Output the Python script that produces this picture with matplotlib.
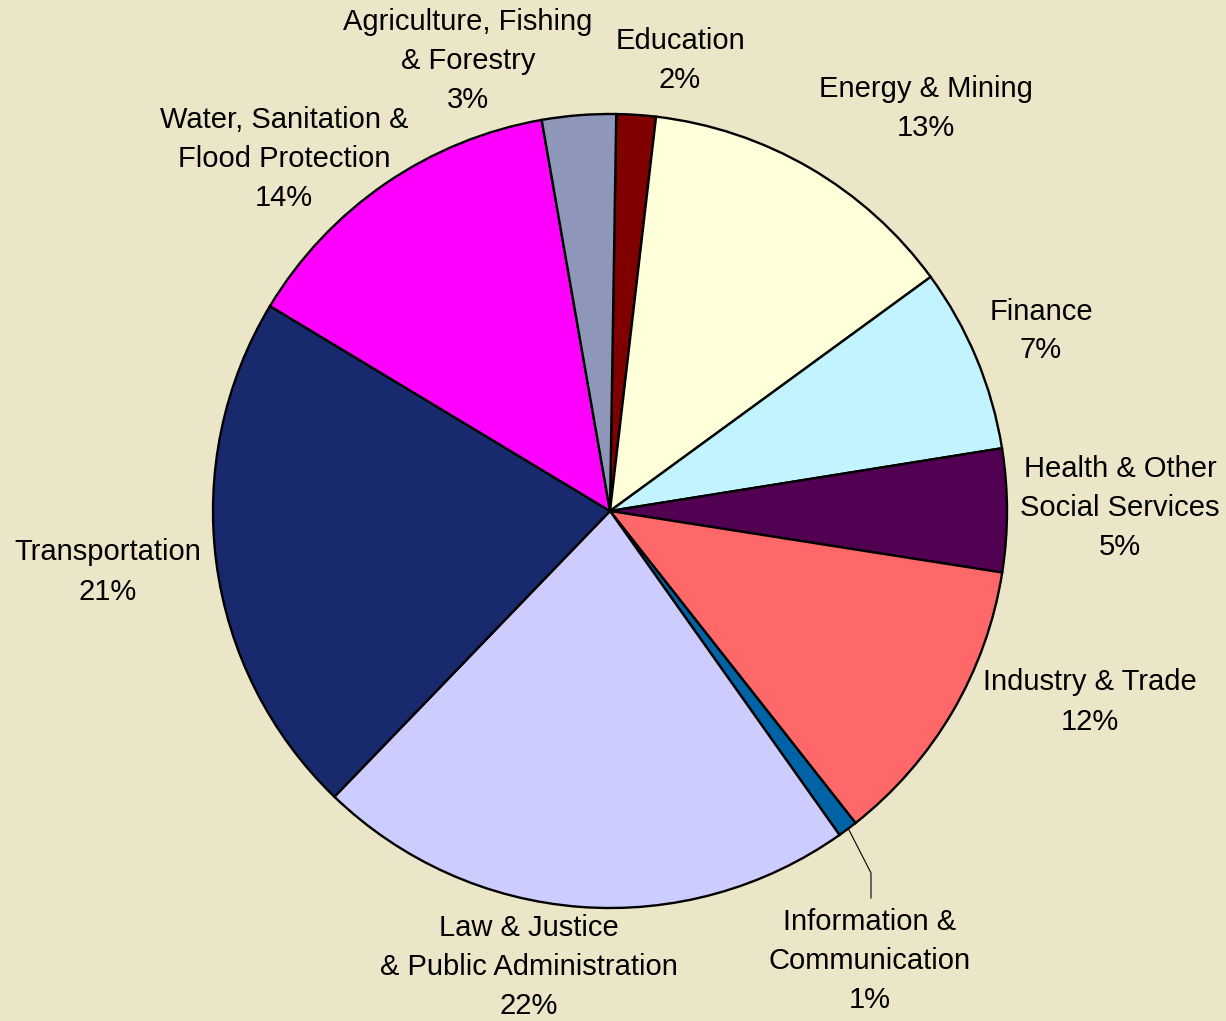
import matplotlib.pyplot as plt

sectors = ['Education', 'Energy & Mining', 'Finance',
           'Health & Other\nSocial Services', 'Industry & Trade',
           'Information &\nCommunication', 'Law & Justice\n& Public Administration',
           'Transportation', 'Water, Sanitation &\nFlood Protection',
           'Agriculture, Fishing\n& Forestry']
shares = [1.6, 13.1, 7.5, 5.0, 11.9, 0.8, 22.0, 21.4, 13.6, 3.0]
pct_labels = ['2%', '13%', '7%', '5%', '12%', '1%', '22%', '21%', '14%', '3%']
colors = ['#800000', '#FFFFD9', '#C2F4FF', '#520052', '#FF6868',
          '#0063A5', '#CCCCFF', '#182A6D', '#FF00FF', '#8E97BA']

# label centres in pixel coords (x, y from top)
label_pos = [(680, 61), (926, 109), (1041, 331), (1120, 508), (1090, 702),
             (870, 961), (529, 967), (108, 572), (284, 159), (468, 61)]

W, H = 1226, 1021
bg = '#ECE6C8'

fig = plt.figure(figsize=(W / 100, H / 100), dpi=100, facecolor=bg)
ax = fig.add_axes([0, 0, 1, 1])
ax.set_facecolor(bg)

ax.pie(shares, colors=colors, startangle=89.1, counterclock=False,
       center=(610, H - 511), radius=397, frame=True,
       wedgeprops=dict(edgecolor='black', linewidth=1.7))
ax.set_xlim(0, W)
ax.set_ylim(0, H)
ax.set_aspect('equal')
ax.axis('off')

for name, pct, (px, py) in zip(sectors, pct_labels, label_pos):
    ax.text(px, H - py, name + '\n' + pct, ha='center', va='center',
            fontsize=21, family='Liberation Sans', linespacing=1.5)

# leader line for the small slice
ax.plot([848, 871, 871], [H - 828, H - 873, H - 898], color='black', lw=0.8)

fig.savefig('out.png', dpi=100, facecolor=bg)
